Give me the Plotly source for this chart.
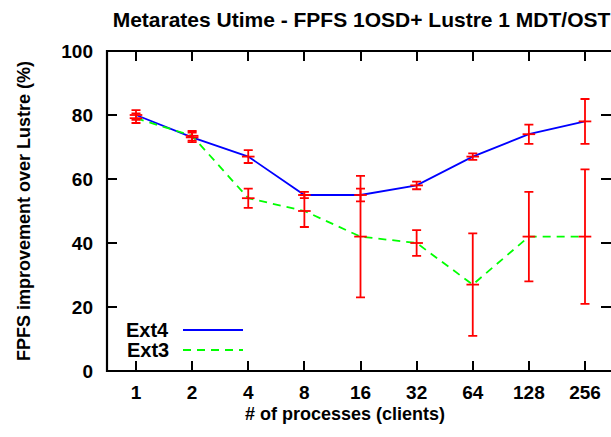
import plotly.graph_objects as go

categories = ["1", "2", "4", "8", "16", "32", "64", "128", "256"]
ext4_values = [80, 73, 67, 55, 55, 58, 67, 74, 78]
ext4_errors = [1.5, 1.5, 2, 1, 2, 1.2, 1, 3, 7]
ext3_values = [79, 73.5, 54, 50, 42, 40, 27, 42, 42]
ext3_errors = [1.5, 1.5, 3, 5, 19, 4, 16, 14, 21]
y_ticks = [0, 20, 40, 60, 80, 100]

W, H = 611, 437
L, R, T, B = 107, 0, 51, 66
PW = W - L - R
PH = H - T - B

FONT = "Liberation Sans"
BLUE = "#0000ff"
GREEN = "#00ff00"
RED = "#ff0000"

fig = go.Figure()
fig.add_trace(go.Scatter(x=categories, y=ext4_values, mode="lines",
                         line=dict(color=BLUE, width=1.8), name="Ext4"))
fig.add_trace(go.Scatter(x=categories, y=ext3_values, mode="lines",
                         line=dict(color=GREEN, width=1.8, dash="8px,6px"), name="Ext3"))
for vals, errs in [(ext4_values, ext4_errors), (ext3_values, ext3_errors)]:
    fig.add_trace(go.Scatter(
        x=categories, y=vals, mode="markers",
        marker=dict(symbol="line-ew", size=9, color=RED, line=dict(color=RED, width=1.8)),
        error_y=dict(type="data", array=errs, symmetric=True, color=RED,
                     thickness=1.8, width=4.5),
        showlegend=False))

# px per category
step = (585 - 136) / 8.0
x0 = -(136 - L) / step
x1 = x0 + PW / step

tick_font = dict(family=FONT, size=19, color="black", weight="bold")
fig.update_layout(
    width=W, height=H,
    margin=dict(l=L, r=R, t=T, b=B),
    paper_bgcolor="white", plot_bgcolor="white",
    showlegend=False,
    title=dict(text="Metarates Utime - FPFS 1OSD+ Lustre 1 MDT/OST",
               x=361.5 / W, xref="container", xanchor="center",
               y=1 - 20 / H, yref="container", yanchor="middle",
               font=dict(family=FONT, size=21, color="black", weight="bold")),
    xaxis=dict(type="category", range=[x0, x1], showgrid=False, zeroline=False,
               ticks="inside", ticklen=10, tickwidth=2, tickcolor="black",
               showline=False, mirror="ticks", tickfont=tick_font,
               ticklabelstandoff=8),
    yaxis=dict(range=[0, 100], tickvals=y_ticks, showgrid=False, zeroline=False,
               ticks="inside", ticklen=10, tickwidth=2, tickcolor="black",
               showline=False, mirror="ticks", tickfont=tick_font,
               ticklabelstandoff=13),
)

# frame (right edge extends just past the window)
fig.add_shape(type="rect", xref="paper", yref="paper", x0=0, x1=(614 - L) / PW,
              y0=0, y1=1, line=dict(color="black", width=2.2), layer="above")

def px_x(px):
    return (px - L) / PW

def px_y(py):
    return 1 - (py - T) / PH

fig.add_annotation(text="# of processes (clients)", xref="paper", yref="paper",
                   x=px_x(345), y=px_y(414), showarrow=False,
                   xanchor="center", yanchor="middle",
                   font=dict(family=FONT, size=18, color="black", weight="bold"))
fig.add_annotation(text="FPFS improvement over Lustre (%)", xref="paper", yref="paper",
                   x=px_x(24), y=px_y(211), showarrow=False, textangle=-90,
                   xanchor="center", yanchor="middle",
                   font=dict(family=FONT, size=18, color="black", weight="bold"))

# legend (gnuplot style: text then sample)
for name, color, dash, py in [("Ext4", BLUE, "solid", 330), ("Ext3", GREEN, "8px,6px", 350)]:
    fig.add_annotation(text=name, xref="paper", yref="paper",
                       x=px_x(171), y=px_y(py), showarrow=False,
                       xanchor="right", yanchor="middle",
                       font=dict(family=FONT, size=20, color="black", weight="bold"))
    fig.add_shape(type="line", xref="paper", yref="paper",
                  x0=px_x(183), x1=px_x(243), y0=px_y(py), y1=px_y(py),
                  line=dict(color=color, width=1.8, dash=dash))

fig.write_html("out.html")
